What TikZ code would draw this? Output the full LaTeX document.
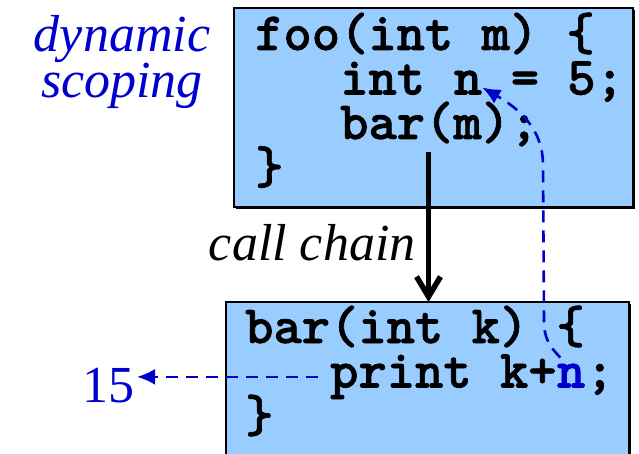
\documentclass[tikz,border=0pt]{standalone}
\usepackage{fontspec}
\setmainfont{Liberation Serif}
\newfontfamily\codefont{lmmonolt10-bold.otf}[FakeBold=1.2]
\usetikzlibrary{arrows.meta,shadows}
\definecolor{scopeblue}{RGB}{0,0,204}
\definecolor{framefill}{RGB}{153,204,255}

\begin{document}
\begin{tikzpicture}[x=1pt,y=-1pt,>={Latex[length=18pt,width=16pt]},
    codebox/.style={draw=black,line width=2pt,fill=framefill,anchor=north west,
        inner sep=0pt,outer sep=0pt,
        drop shadow={shadow xshift=2pt,shadow yshift=-2pt,fill=black,opacity=1}},
    code/.style={font=\codefont\fontsize{53.9}{53.9}\selectfont,
        inner sep=0pt,anchor=base west},
    note/.style={font=\fontsize{52}{45}\selectfont\itshape},
    lookup/.style={scopeblue,dash pattern=on 12pt off 8pt,line width=2.6pt,->},
    callarrow/.style={line width=5.5pt,-{Straight Barb[length=20pt,width=24pt]}}]
    \useasboundingbox (0,0) rectangle (639,454);

    % the two frames
    \node[codebox,minimum width=399pt,minimum height=199pt] (foobox) at (234,8) {};
    \node[codebox,minimum width=403pt,minimum height=200pt] (barbox) at (226,302) {};

    % body of foo (one character is 28.3pt wide)
    \node[code] (foohead) at (255,50) {foo(int m) \{};
    \node[code] (declint) at (340,94.5) {int};
    \node[code] (nvar) at ([xshift=28.3pt]declint.base east) {n};
    \node[code] (declrest) at (nvar.base east) {\ = 5;};
    \node[code] (callbar) at (340,139) {bar(m);};
    \node[code] (fooend) at (255,183.5) {\}};

    % body of bar
    \node[code] (barhead) at (245,343) {bar(int k) \{};
    \node[code] (printline) at (330,387.5) {print k+};
    \node[code,scopeblue] (nuse) at (printline.base east) {n};
    \node[code] (printend) at (nuse.base east) {;};
    \node[code] (barend) at (245,432) {\}};

    % labels
    \node[note,scopeblue,align=center,anchor=base] (scoping) at (122,98) {dynamic\\scoping};
    \node[note,anchor=base east] (chainlabel) at (419,260) {call chain};
    \node[font=\fontsize{52}{52}\selectfont,scopeblue,anchor=base east,inner xsep=2pt]
        (result) at (137,402) {15};

    % call chain
    \coordinate (callfrom) at (428.5,152);
    \draw[callarrow] (callfrom) -- (callfrom |- barbox.north);

    % lookup of n and its value
    \draw[lookup] ([xshift=-12pt]printline.west) -- (result.east |- printline.west);
    \draw[lookup] ([shift={(3.5pt,30pt)}]nuse.base west) to[out=135,in=-90] (544,322)
        -- (543,165) to[out=90,in=-30] ([yshift=7pt]nvar.base east);
\end{tikzpicture}
\end{document}
